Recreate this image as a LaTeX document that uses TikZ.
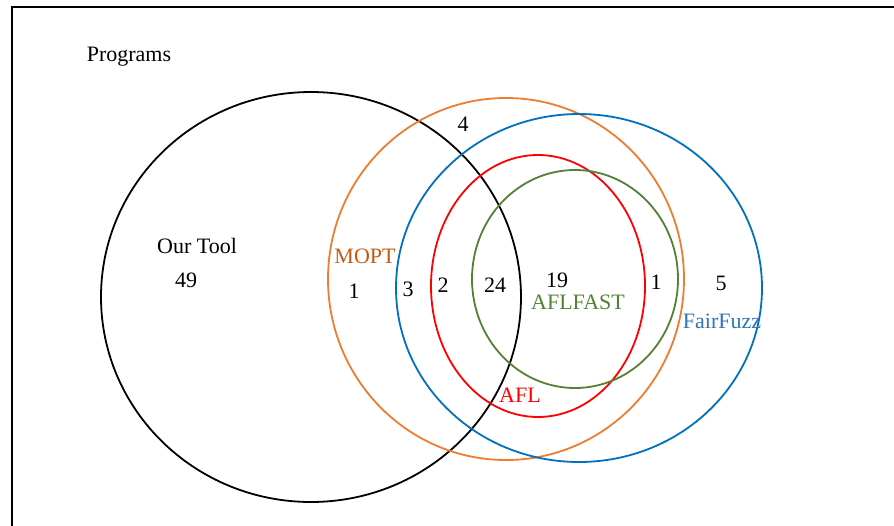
\documentclass[tikz,border=0pt]{standalone}
\usepackage{fontspec}
\setmainfont{Liberation Serif}
\definecolor{moptc}{HTML}{ED7D31}
\definecolor{mopttext}{HTML}{C55A11}
\definecolor{fuzzc}{HTML}{0070C0}
\definecolor{fuzztext}{HTML}{2E75B6}
\definecolor{aflc}{HTML}{FF0000}
\definecolor{fastc}{HTML}{548235}
\begin{document}
\begin{tikzpicture}[x=1pt,y=-1pt,
  lab/.style={inner sep=0pt,font=\fontsize{22}{25}\selectfont},
  setline/.style={line width=1.8pt}]
\useasboundingbox (0,0) rectangle (894,525);
\fill[white] (0,0) rectangle (894,525);
% frame
\draw[line width=2.4pt] (12,526) -- (12,7) -- (895,7);
% sets
\draw[setline,black] (311,297) ellipse [x radius=210,y radius=205];
\draw[setline,moptc] (506,279) ellipse [x radius=178,y radius=181];
\draw[setline,fuzzc] (579,288) ellipse [x radius=183,y radius=174];
\draw[setline,aflc] (538,286) ellipse [x radius=107,y radius=131];
\draw[setline,fastc] (575,279) ellipse [x radius=103,y radius=109];
% labels
\node[lab] (prog) at (129,57) {Programs};
\node[lab] (ourtool) at (197,246) {Our Tool};
\node[lab] (n49) at (186,280) {49};
\node[lab,text=mopttext] (mopt) at (365,256) {MOPT};
\node[lab] (n1a) at (354,291) {1};
\node[lab] (n3) at (408,289) {3};
\node[lab] (n2) at (443,285) {2};
\node[lab] (n24) at (495,285) {24};
\node[lab] (n19) at (557,280) {19};
\node[lab,text=fastc] (aflfast) at (578,302) {AFLFAST};
\node[lab] (n1b) at (656,282) {1};
\node[lab] (n5) at (721,283) {5};
\node[lab,text=fuzztext] (fairfuzz) at (722,321) {FairFuzz};
\node[lab,text=aflc] (afl) at (520,395) {AFL};
\node[lab] (n4) at (463,124) {4};
\end{tikzpicture}
\end{document}
